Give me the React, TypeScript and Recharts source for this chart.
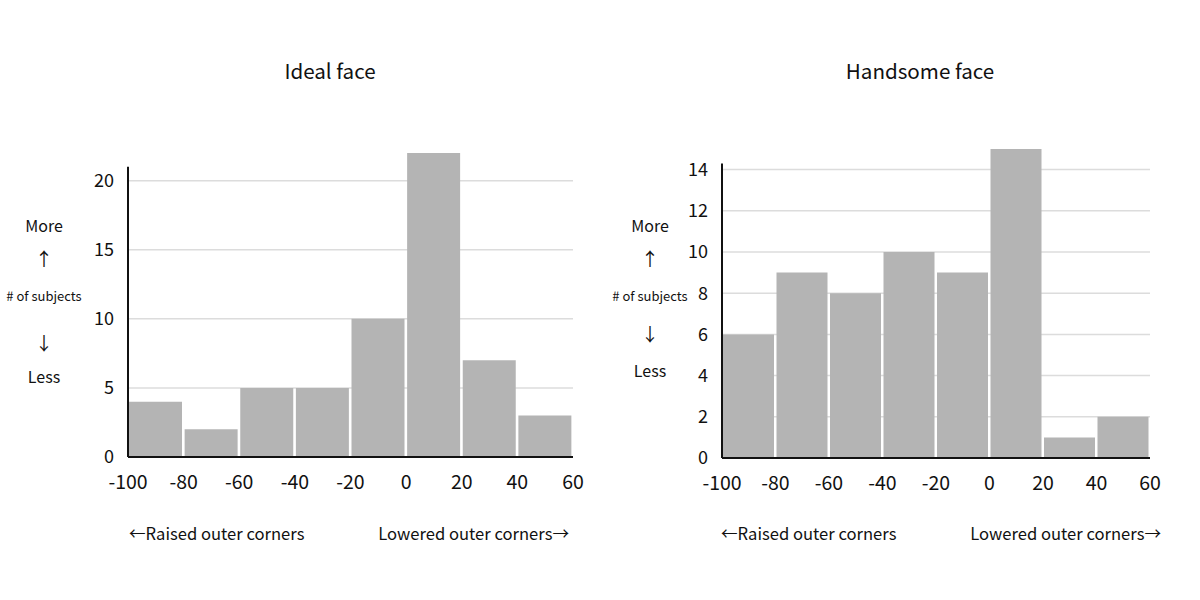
import React from "react";
import {
  BarChart,
  Bar,
  CartesianGrid,
  XAxis,
  YAxis,
  ReferenceLine,
} from "recharts";

const binCenters = [-90, -70, -50, -30, -10, 10, 30, 50];
const idealCounts = [4, 2, 5, 5, 10, 22, 7, 3];
const handsomeCounts = [6, 9, 8, 10, 9, 15, 1, 2];
const xTicks = [-100, -80, -60, -40, -20, 0, 20, 40, 60];
const idealYTicks = [0, 5, 10, 15, 20];
const handsomeYTicks = [0, 2, 4, 6, 8, 10, 12, 14];

const FONT = '"Noto Sans CJK JP", "Noto Sans", sans-serif';

type PanelProps = {
  left: number;
  title: string;
  counts: number[];
  yTicks: number[];
  yMax: number;
  axisTop: number;
  margin: { top: number; right: number; left: number; bottom: number };
  barSize: number;
  sideX: number;
  sideY: number[];
  cornersLeft: number;
  cornersRight: number;
  titleX: number;
};

const Label: React.FC<{ x: number; y: number; size: number; children: React.ReactNode; align?: string }> = ({
  x,
  y,
  size,
  children,
  align = "center",
}) => {
  const tx = align === "center" ? "-50%" : align === "right" ? "-100%" : "0";
  return (
    <div
      style={{
        position: "absolute",
        left: x,
        top: y,
        transform: `translate(${tx}, -50%)`,
        fontSize: size,
        fontFamily: FONT,
        color: "#111",
        whiteSpace: "nowrap",
      }}
    >
      {children}
    </div>
  );
};

const Panel: React.FC<PanelProps> = (p) => {
  const data = binCenters.map((bin, i) => ({ bin, count: p.counts[i] }));
  // grid only at the labelled ticks above zero
  const gridValues = p.yTicks.filter((t) => t > 0);
  return (
    <>
      <div style={{ position: "absolute", left: p.left, top: 0 }}>
        <BarChart width={600} height={600} data={data} margin={p.margin}>
          <CartesianGrid
            horizontal={true}
            vertical={false}
            horizontalValues={gridValues}
            stroke="#dcdcdc"
            strokeWidth={1.5}
          />
          <XAxis
            dataKey="bin"
            type="number"
            domain={[-100, 60]}
            ticks={xTicks}
            interval={0}
            tickLine={false}
            tickMargin={12}
            height={30}
            stroke="#111"
            strokeWidth={2}
            tick={{ fill: "#111", fontSize: 19.5, fontFamily: FONT }}
          />
          <YAxis
            type="number"
            domain={[0, p.yMax]}
            ticks={p.yTicks}
            interval={0}
            axisLine={false}
            tickLine={false}
            tickMargin={8}
            width={40}
            tick={{ fill: "#111", fontSize: 18, fontFamily: FONT }}
          />
          <Bar dataKey="count" fill="#b4b4b4" barSize={p.barSize} isAnimationActive={false} />
          <ReferenceLine
            segment={[
              { x: -100, y: 0 },
              { x: -100, y: p.axisTop },
            ]}
            stroke="#111"
            strokeWidth={2}
          />
        </BarChart>
      </div>
      <Label x={p.titleX} y={70} size={20.6}>
        {p.title}
      </Label>
      <Label x={p.sideX} y={p.sideY[0]} size={16}>More</Label>
      <Label x={p.sideX} y={p.sideY[1]} size={18}>↑</Label>
      <Label x={p.sideX} y={p.sideY[2]} size={13}># of subjects</Label>
      <Label x={p.sideX} y={p.sideY[3]} size={18}>↓</Label>
      <Label x={p.sideX} y={p.sideY[4]} size={16}>Less</Label>
      <Label x={p.cornersLeft} y={533} size={16.6} align="left">←Raised outer corners</Label>
      <Label x={p.cornersRight} y={533} size={16.6} align="right">Lowered outer corners→</Label>
    </>
  );
};

export default function App() {
  return (
    <div
      style={{
        position: "absolute",
        left: 0,
        top: 0,
        width: 1200,
        height: 600,
        background: "#fff",
        overflow: "hidden",
      }}
    >
      <Panel
        left={0}
        title="Ideal face"
        counts={idealCounts}
        yTicks={idealYTicks}
        yMax={22}
        axisTop={21}
        margin={{ top: 153, right: 27, left: 88, bottom: 113 }}
        barSize={53}
        sideX={44}
        sideY={[225, 258, 295, 342, 376]}
        cornersLeft={129}
        cornersRight={569}
        titleX={330}
      />
      <Panel
        left={600}
        title="Handsome face"
        counts={handsomeCounts}
        yTicks={handsomeYTicks}
        yMax={15}
        axisTop={14.3}
        margin={{ top: 149, right: 50, left: 82, bottom: 112 }}
        barSize={51}
        sideX={650}
        sideY={[225, 258, 295, 333, 370]}
        cornersLeft={721}
        cornersRight={1161}
        titleX={920}
      />
    </div>
  );
}
